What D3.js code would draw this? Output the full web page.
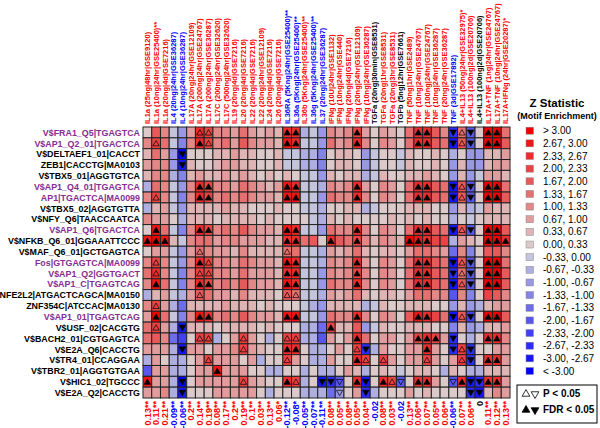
<!DOCTYPE html>
<html>
<head>
<meta charset="utf-8">
<script src="https://cdn.jsdelivr.net/npm/d3@7"></script>
<style>
body { margin: 0; background: #fff; }
svg { font-family: "Liberation Sans", Arial, sans-serif; }
</style>
</head>
<body>
<div class="chart"></div>
<script>
// column (treatment) labels and their colour class: r = up, b = down, k = n.s.
const colLabels = [
	"IL1a (25ng|48hr|GSE9120)", "IL1a (10ng|24hr|GSE25400)**", "IL1a (20ng|4d|GSE7216)",
	"IL4 (20ng|24hr|GSE36287)", "IL4 (10ng|24hr|GSE36287)",
	"IL17A (20ng|24hr|GSE12109)", "IL17A (200ng|24hr|GSE24767)", "IL17A (200ng|24hr|GSE36287)",
	"IL17C (200ng|24hr|GSE32620)", "IL17C (500ng|24hr|GSE32620)",
	"IL19 (20ng|4d|GSE7216)", "IL20 (20ng|4d|GSE7216)", "IL22 (20ng|4d|GSE7216)",
	"IL22 (20ng|24hr|GSE12109)", "IL24 (20ng|4d|GSE7216)", "IL26 (20ng|4d|GSE7216)",
	"IL36RA (5Kng|24hr|GSE25400)**", "IL36a (5Kng|24hr|GSE25400)**", "IL36b (5Kng|24hr|GSE25400)**",
	"IL36g (5Kng|24hr|GSE25400)**", "IL37 (20ng|24hr|GSE36287)",
	"IFNg (10U|24hr|GSE1132)", "IFNg (10ng|24hr|GSE440)", "IFNg (20ng|4d|GSE7216)",
	"IFNg (20ng|24hr|GSE12109)", "IFNg (10ng|24hr|GSE36287)",
	"TGFa (20ng|30min|GSE8531)", "TGFa (20ng|1hr|GSE8531)", "TGFa (20ng|3hr|GSE8531)",
	"TGFb (5ng|12hr|GSE7661)",
	"TNF (50ng|1hr|GSE2489)", "TNF (10ng|24hr|GSE24767)", "TNF (100ng|24hr|GSE24767)",
	"TNF (10ng|24hr|GSE36287)", "TNF (20ng|24hr|GSE36287)", "TNF (3d|GSE17892)",
	"IL4+IL13 (50ng|24hr|GSE32975)*", "IL4+IL13 (100ng|2d|GSE20706)", "IL4+IL13 (100ng|2d|GSE20706)",
	"IL17A+TNF (1ng|24hr|GSE24767)", "IL17A+TNF (10ng|24hr|GSE24767)", "IL17A+IFNg (24hr|GSE20287)*"
];
const colClass = "rrrbbrrrrrrrrrrrbbrbbrrrrrkrrkrrrrrbrrkrrr";

// correlation shown under each column
const colValues = [
	"0.13**", "0.11**", "0.21**", "-0.09**", "-0.06**", "0.2**", "0.14**", "0.19**", "0.08**", "0.17**",
	"0.2**", "0.19**", "0.1**", "0.03**", "0.13**", "0.06*", "-0.12**", "-0.08*", "-0.05**", "-0.07**",
	"-0.11**", "0.08**", "0.05**", "0.08**", "0.05**", "0.04**", "-0.02", "0.08**", "0.03**", "-0.02",
	"0.13**", "0.06**", "0.07**", "0.05**", "0.06**", "-0.06**", "0.07**", "0.06**", "0", "0.11**",
	"0.12**", "0.13**"
];

// motif rows; ap1 marks the purple (AP-1 family) labels
const rowLabels = [
	"V$FRA1_Q5|TGAGTCA", "V$AP1_Q2_01|TGACTCA", "V$DELTAEF1_01|CACCT", "ZEB1|CACCTG|MA0103",
	"V$TBX5_01|AGGTGTCA", "V$AP1_Q4_01|TGAGTCA", "AP1|TGACTCA|MA0099", "V$TBX5_02|AGGTGTTA",
	"V$NFY_Q6|TAACCAATCA", "V$AP1_Q6|TGACTCA", "V$NFKB_Q6_01|GGAAATTCCC", "V$MAF_Q6_01|GCTGAGTCA",
	"Fos|GTGAGTCA|MA0099", "V$AP1_Q2|GGTGACT", "V$AP1_C|TGAGTCAG", "NFE2L2|ATGACTCAGCA|MA0150",
	"ZNF354C|ATCCAC|MA0130", "V$AP1_01|TGAGTCAG", "V$USF_02|CACGTG", "V$BACH2_01|CGTGAGTCA",
	"V$E2A_Q6|CACCTG", "V$TR4_01|CCAGGAA", "V$TBR2_01|AGGTGTGAA", "V$HIC1_02|TGCCC", "V$E2A_Q2|CACCTG"
];
const ap1 = [1,1,0,0,0,1,1,0,0,1,0,0,1,1,1,0,0,1,0,0,0,0,0,0,0];

// Z statistic (motif enrichment), one array per row, one value per column
const zValues = [
	[0.3,1.8,1.3,-0.3,-1.0,0.9,2.4,2.0,1.0,1.3,0.8,1.6,0.9,0.6,0.7,0.5,2.6,2.4,-0.4,-0.3,-0.8,1.2,0.7,1.0,2.3,0.8,0.2,0.9,0.6,0.2,1.4,2.4,2.5,1.7,1.3,-2.6,1.6,-1.8,0.1,3.2,3.1,1.5],
	[1.3,2.2,1.4,-0.2,-1.2,1.0,2.5,2.2,1.2,1.4,0.9,1.7,1.0,0.7,0.8,0.6,2.8,2.6,-0.3,-0.2,-0.7,1.4,0.9,1.1,2.5,1.0,0.3,1.1,0.7,0.2,1.6,2.6,2.6,1.9,1.4,-2.8,1.8,-2.0,0.2,3.3,3.2,1.8],
	[0.4,1.4,0.8,-0.7,-3.1,0.3,0.2,0.1,0.4,0.6,0.7,0.5,0.5,0.3,0.2,0.4,-0.2,-0.1,-0.4,-0.5,-1.1,0.3,0.5,0.4,0.2,-0.8,-0.3,0.2,0.3,-0.1,0.5,0.3,0.2,0.4,0.3,-0.6,0.3,-0.9,-0.7,0.4,0.6,0.8],
	[0.9,1.3,1.0,-0.9,-2.8,0.4,0.3,0.2,0.5,0.7,0.8,0.6,0.6,0.2,0.3,0.5,-0.3,-0.2,-0.5,-0.6,-1.2,0.2,0.6,0.5,0.3,-0.9,-0.2,0.3,0.2,-0.1,0.6,0.2,0.3,0.4,0.3,-0.7,0.4,-1.0,-0.8,0.5,0.7,0.9],
	[0.5,1.2,1.0,-0.4,-1.3,0.6,0.8,0.5,0.5,0.9,0.6,0.7,0.4,0.3,0.4,0.3,0.4,0.3,-0.3,-0.2,-0.8,0.4,0.3,0.5,0.6,-0.5,-0.2,0.4,0.3,0.1,0.5,0.6,0.7,0.4,0.3,-0.9,0.5,-0.8,-0.3,0.9,0.8,0.6],
	[-0.4,1.4,1.2,-0.3,-1.0,1.1,2.4,2.1,1.1,1.3,0.9,1.5,1.0,0.8,0.6,0.7,2.7,2.5,-0.2,-0.3,-0.6,1.3,0.9,1.0,2.4,0.9,0.3,1.0,0.8,0.3,1.5,2.5,2.4,1.8,1.5,-2.7,1.7,-1.9,0.1,3.2,3.2,1.6],
	[1.2,2.3,1.3,-0.3,-1.1,1.1,2.6,2.3,1.2,1.4,1.0,1.6,1.1,0.8,0.7,0.6,2.8,2.7,-0.2,-0.3,-0.7,1.4,1.0,1.1,2.5,1.0,0.3,1.1,0.8,0.2,1.6,2.6,2.5,1.9,1.5,-2.8,1.8,-2.0,0.2,3.3,3.2,1.7],
	[-0.5,0.5,0.8,-0.3,-0.9,0.5,0.6,0.4,0.4,0.7,0.5,0.6,0.3,0.2,0.3,0.4,0.3,0.2,-0.3,-0.2,-0.6,0.3,0.2,0.4,0.5,-0.4,-0.1,0.3,0.2,0.1,0.4,0.5,0.6,0.3,0.2,-0.7,0.4,-0.6,-0.2,0.7,0.6,0.5],
	[1.2,0.9,0.7,0.3,-0.4,0.5,0.4,0.5,0.3,0.5,0.6,0.5,0.4,0.3,0.5,0.3,0.2,0.1,0.1,-0.2,-0.4,0.4,0.3,0.4,0.3,0.2,0.1,0.3,0.4,0.2,0.6,0.3,0.4,0.3,0.3,-0.5,0.3,-0.3,0.1,0.5,0.5,0.6],
	[0.2,2.8,1.4,-0.3,-1.2,1.1,2.6,2.3,1.2,1.4,1.0,1.7,1.0,0.8,0.7,0.6,2.8,2.6,-0.3,-0.2,-0.7,1.4,1.0,1.1,2.6,1.0,0.3,1.1,0.8,0.2,1.6,2.6,2.6,1.9,1.5,-2.8,1.8,-2.0,0.2,3.3,3.3,1.8],
	[2.8,3.0,2.7,0.4,-0.3,1.2,1.6,1.4,0.9,1.1,1.0,0.9,0.8,0.7,0.6,0.5,2.6,2.4,1.5,1.8,0.3,2.4,1.8,1.4,2.1,1.2,0.6,1.0,0.9,0.4,3.2,2.8,2.6,2.3,2.0,-0.4,0.9,0.5,0.3,3.2,3.1,2.6],
	[0.3,0.8,0.9,-0.2,-0.7,0.7,1.5,1.2,0.7,0.9,0.6,1.0,0.6,0.5,0.4,0.4,1.6,1.4,-0.2,-0.1,-0.5,0.8,0.6,0.7,1.4,0.5,0.2,0.6,0.5,0.1,0.9,1.5,1.4,1.1,0.9,-1.6,1.0,-1.2,0.1,1.9,1.8,1.0],
	[1.0,2.2,1.3,-0.2,-1.0,1.0,2.4,2.1,1.1,1.3,0.9,1.6,1.0,0.7,0.7,0.6,2.7,2.5,-0.3,-0.2,-0.6,1.3,0.9,1.0,2.4,0.9,0.3,1.0,0.7,0.2,1.5,2.5,2.4,1.8,1.4,-2.7,1.7,-1.9,0.2,3.2,3.2,1.6],
	[1.6,2.4,1.2,-0.3,-1.1,1.0,2.3,2.2,1.0,1.3,0.9,1.5,0.9,0.8,0.7,0.6,2.6,2.4,-0.2,-0.3,-0.7,1.2,0.9,1.1,2.3,1.0,0.3,1.0,0.7,0.2,1.6,2.4,2.5,1.7,1.4,-2.6,1.6,-1.8,0.2,3.1,3.1,1.7],
	[1.3,2.9,1.4,-0.3,-1.2,1.1,2.6,2.3,1.2,1.4,1.0,1.7,1.0,0.8,0.7,0.6,2.8,2.6,-0.3,-0.2,-0.7,1.4,1.0,1.1,2.6,1.0,0.3,1.1,0.8,0.2,1.6,2.6,2.6,1.9,1.5,-2.8,1.8,-2.0,0.2,3.3,3.3,1.8],
	[-0.5,0.5,0.9,-0.2,-0.6,0.8,1.7,1.4,0.7,0.9,0.6,1.1,0.6,0.5,0.4,0.3,1.8,1.6,-0.1,-0.2,-0.4,0.9,0.6,0.7,1.5,0.5,0.2,0.6,0.4,0.1,0.9,1.6,1.5,1.2,1.0,-1.7,1.0,-1.2,0.1,2.0,1.9,1.1],
	[1.0,2.2,0.9,-0.5,-1.4,0.6,0.5,0.4,0.5,0.7,0.6,0.5,0.4,0.3,0.4,0.3,0.3,0.2,-0.3,-0.4,-0.8,0.5,0.4,0.5,0.6,-0.6,-0.2,0.4,0.3,0.0,0.5,0.4,0.5,0.3,0.3,-0.9,0.4,-0.9,-0.5,0.6,0.7,0.8],
	[0.8,3.0,1.4,-0.3,-1.2,1.2,2.7,2.4,1.2,1.4,1.0,1.8,1.0,0.8,0.7,0.6,2.9,2.7,-0.2,-0.3,-0.7,1.4,1.0,1.1,2.6,1.0,0.3,1.1,0.8,0.2,1.7,2.7,2.6,2.0,1.5,-2.8,1.9,-2.1,0.2,3.3,3.3,1.9],
	[1.4,2.2,0.8,-0.6,-2.7,0.5,0.4,0.4,0.3,0.6,0.5,0.6,0.4,0.3,0.4,0.3,0.2,0.1,-0.4,-0.5,-1.4,2.3,0.4,0.5,1.9,-0.8,-0.2,0.4,0.3,0.0,0.6,0.4,0.5,0.3,0.3,-1.2,0.4,-1.0,-0.6,0.6,0.6,0.7],
	[1.6,1.7,1.1,-1.6,-2.2,0.2,2.2,2.1,-0.6,0.3,0.9,2.0,0.8,0.2,-0.4,0.2,2.1,2.2,-0.5,-0.5,-1.9,0.8,0.3,0.7,2.4,1.4,0.2,0.8,0.8,0.2,0.9,2.3,2.5,2.2,0.9,-2.6,0.3,-0.6,0.1,2.6,2.4,1.0],
	[0.9,0.8,0.9,-0.5,-2.9,0.7,0.8,0.3,0.8,0.7,1.2,2.1,0.8,0.6,0.2,0.2,2.5,2.6,0.2,-0.4,-0.6,0.2,0.7,0.2,2.1,-2.6,-0.4,0.7,0.2,0.2,0.7,0.8,2.4,0.8,0.3,-2.5,2.0,-2.6,0.1,0.3,0.8,0.7],
	[-0.5,0.8,0.2,-0.5,-0.6,0.2,0.8,2.0,0.7,0.8,0.7,0.3,0.7,-0.4,0.2,0.2,2.1,0.9,0.2,-0.5,-0.6,0.7,0.2,0.2,2.4,2.0,0.2,2.0,0.8,0.2,0.7,0.8,2.1,0.7,0.2,0.7,2.0,-2.5,0.2,2.5,2.4,0.8],
	[-1.8,0.7,0.8,-0.5,-0.6,0.2,0.8,0.7,2.8,0.8,0.7,0.7,0.2,0.2,-0.5,-0.5,0.2,0.2,-0.5,0.2,-0.6,-0.4,0.2,0.7,0.6,-0.4,0.2,0.6,0.3,-0.3,0.2,0.6,0.4,0.2,-0.6,0.5,0.3,-0.5,-0.4,0.6,0.5,0.4],
	[2.8,0.8,0.8,-0.5,-3.1,0.2,0.7,0.8,0.7,0.8,0.8,2.1,0.8,0.6,0.2,0.2,2.6,2.1,-0.5,0.2,-2.9,-2.6,-1.9,0.2,2.6,-2.7,0.2,2.5,2.1,-1.8,0.3,2.5,2.6,0.8,0.3,-1.7,2.4,-2.7,-2.6,2.6,2.5,0.9],
	[0.8,0.7,1.3,-0.5,-3.0,0.2,0.2,0.2,0.7,0.8,0.8,0.7,0.8,0.2,-0.5,0.2,0.2,0.2,-0.5,-0.5,-0.6,-1.5,-1.0,0.2,0.7,-2.6,-0.4,0.2,0.2,0.2,0.7,0.2,0.6,0.2,0.2,0.2,0.2,-2.6,-2.7,0.6,1.2,0.7]
];

// significance marks: a = P<0.05 up, A = FDR<0.05 up, v = P<0.05 down, V = FDR<0.05 down
const marks = [
	"......aa........AA......A......AA..VaV.AA.",
	".a....Aa........AA......A......AA..VaV.AA.",
	"....V.....................................",
	"....V.....................................",
	"..........................................",
	"......AA........AA......A......AA..VaV.AA.",
	".a....AA........AA......A......AA..VaV.AA.",
	"..........................................",
	"..........................................",
	".A....AA........AA......A......AA..VaV.AA.",
	"AAA.............AA...A..A.....AAA......AAA",
	"......a.........a.........................",
	".a....Aa........AA......A......AA..VaV.AA.",
	".a....aa........AA......A......AA..VaV.AA.",
	".A....AA........AA......A......AA..VaV.AA.",
	"......a.........aa........................",
	".a........................................",
	".A....AA........AA......A......AA..VaV.AA.",
	".a..V................A....................",
	"......aa...a....aa......A......AAA.V...AA.",
	"....V......a....AA......aV......A..VaV....",
	".......a........a.......Aa.a....a...aV.AA.",
	"........A.................................",
	"A...V......a....Aa..VVv.AV.Aav.AA..vAVVAA.",
	"....V.................v..V...........VV..."
];

// legend bins, top (highest) to bottom
const binLabels = ["> 3.00", "2.67, 3.00", "2.33, 2.67", "2.00, 2.33", "1.67, 2.00", "1.33, 1.67",
	"1.00, 1.33", "0.67, 1.00", "0.33, 0.67", "0.00, 0.33", "-0.33, 0.00", "-0.67, -0.33",
	"-1.00, -0.67", "-1.33, -1.00", "-1.67, -1.33", "-2.00, -1.67", "-2.33, -2.00", "-2.67, -2.33",
	"-3.00, -2.67", "< -3.00"];
const binEdges = [-3, -2.67, -2.33, -2, -1.67, -1.33, -1, -0.67, -0.33, 0, 0.33, 0.67, 1, 1.33, 1.67, 2, 2.33, 2.67, 3];

let width = 600, height = 428;

let svg = d3.select(".chart")
	.append("svg")
	.attr("width", width)
	.attr("height", height);

// colours of the 20 bins, lowest first
let negCol = d3.interpolateRgb("#0000ff", "#c4c4dc");
let posCol = d3.interpolateRgb("#dccaca", "#f20000");
let binColors = d3.range(10).map(i => negCol(i / 9)).concat(d3.range(10).map(i => posCol(i / 9)));
let color = d3.scaleThreshold().domain(binEdges).range(binColors);

let x = d3.scaleBand().domain(d3.range(colLabels.length)).range([143, 510]);
let y = d3.scaleBand().domain(d3.range(rowLabels.length)).range([127, 398]);
let bw = x.bandwidth(), bh = y.bandwidth();

let textCol = {r: "#ff0000", b: "#0000ff", k: "#000000"};

// cells
let cells = [];
zValues.forEach((row, i) => row.forEach((v, j) => cells.push({i, j, v, m: marks[i][j] || "."})));

svg.append("g").selectAll("rect")
	.data(cells)
	.enter().append("rect")
	.attr("x", d => x(d.j))
	.attr("y", d => y(d.i))
	.attr("width", bw)
	.attr("height", bh)
	.attr("fill", d => color(d.v))
	.attr("stroke", "#222")
	.attr("stroke-width", 1);

let tri = d3.symbol().type(d3.symbolTriangle).size(17);
svg.append("g").selectAll("path")
	.data(cells.filter(d => d.m !== "."))
	.enter().append("path")
	.attr("d", tri)
	.attr("transform", d => {
		let down = d.m === "v" || d.m === "V";
		return "translate(" + (x(d.j) + bw / 2) + "," + (y(d.i) + bh / 2 + (down ? -0.5 : 0.8)) + ")" + (down ? " rotate(180)" : "");
	})
	.attr("fill", d => (d.m === "A" || d.m === "V") ? "#000" : "none")
	.attr("stroke", "#000")
	.attr("stroke-width", 0.7);

// column labels
svg.append("g").selectAll("text")
	.data(colLabels)
	.enter().append("text")
	.attr("transform", (d, j) => "translate(" + (x(j) + bw / 2 + 2.7) + ",124) rotate(-90)")
	.attr("text-anchor", "start")
	.attr("font-size", "7.5px")
	.attr("font-weight", "bold")
	.attr("fill", (d, j) => textCol[colClass[j]])
	.text(d => d);

// row labels
svg.append("g").selectAll("text")
	.data(rowLabels)
	.enter().append("text")
	.attr("x", 140)
	.attr("y", (d, i) => y(i) + bh / 2 + 3.3)
	.attr("text-anchor", "end")
	.attr("font-size", "8.9px")
	.attr("font-weight", "bold")
	.attr("fill", (d, i) => ap1[i] ? "#862d91" : "#000")
	.text(d => d);

// values under columns
svg.append("g").selectAll("text")
	.data(colValues)
	.enter().append("text")
	.attr("transform", (d, j) => "translate(" + (x(j) + bw / 2 + 3.2) + ",401) rotate(-90)")
	.attr("text-anchor", "end")
	.attr("font-size", "9px")
	.attr("font-weight", "bold")
	.attr("fill", d => {
		let n = parseFloat(d);
		return n > 0 ? textCol.r : n < 0 ? textCol.b : textCol.k;
	})
	.text(d => d);

// legend
let lg = svg.append("g");
lg.append("text").attr("x", 557).attr("y", 107).attr("text-anchor", "middle")
	.attr("font-size", "11.5px").attr("font-weight", "bold").text("Z Statistic");
lg.append("text").attr("x", 557).attr("y", 119).attr("text-anchor", "middle")
	.attr("font-size", "9px").attr("font-weight", "bold").text("(Motif Enrichment)");

let ly = d3.scalePoint().domain(d3.range(binLabels.length)).range([130.7, 371]);
lg.selectAll("rect")
	.data(binLabels)
	.enter().append("rect")
	.attr("x", 526)
	.attr("y", (d, k) => ly(k) - 3.5)
	.attr("width", 7.5)
	.attr("height", 7)
	.attr("fill", (d, k) => binColors[binColors.length - 1 - k])
	.attr("stroke", "#888")
	.attr("stroke-width", 0.5);
lg.selectAll("text.bin")
	.data(binLabels)
	.enter().append("text")
	.attr("class", "bin")
	.attr("x", 543)
	.attr("y", (d, k) => ly(k) + 3.6)
	.attr("font-size", "10px")
	.text(d => d);

// significance key
let key = svg.append("g");
key.append("rect").attr("x", 517).attr("y", 385).attr("width", 80).attr("height", 38)
	.attr("fill", "#fff").attr("stroke", "#000").attr("stroke-width", 1);
[["a", "v", "P < 0.05", 397], ["A", "V", "FDR < 0.05", 413]].forEach(k => {
	[k[0], k[1]].forEach((m, n) => {
		let down = m === "v" || m === "V";
		key.append("path")
			.attr("d", d3.symbol().type(d3.symbolTriangle).size(26))
			.attr("transform", "translate(" + (526 + n * 9) + "," + (k[3] - 3) + ")" + (down ? " rotate(180)" : ""))
			.attr("fill", m === "A" || m === "V" ? "#000" : "none")
			.attr("stroke", "#000")
			.attr("stroke-width", 0.8);
	});
	key.append("text").attr("x", 543).attr("y", k[3]).attr("font-size", "10px")
		.attr("font-weight", "bold").text(k[2]);
});
</script>
</body>
</html>
